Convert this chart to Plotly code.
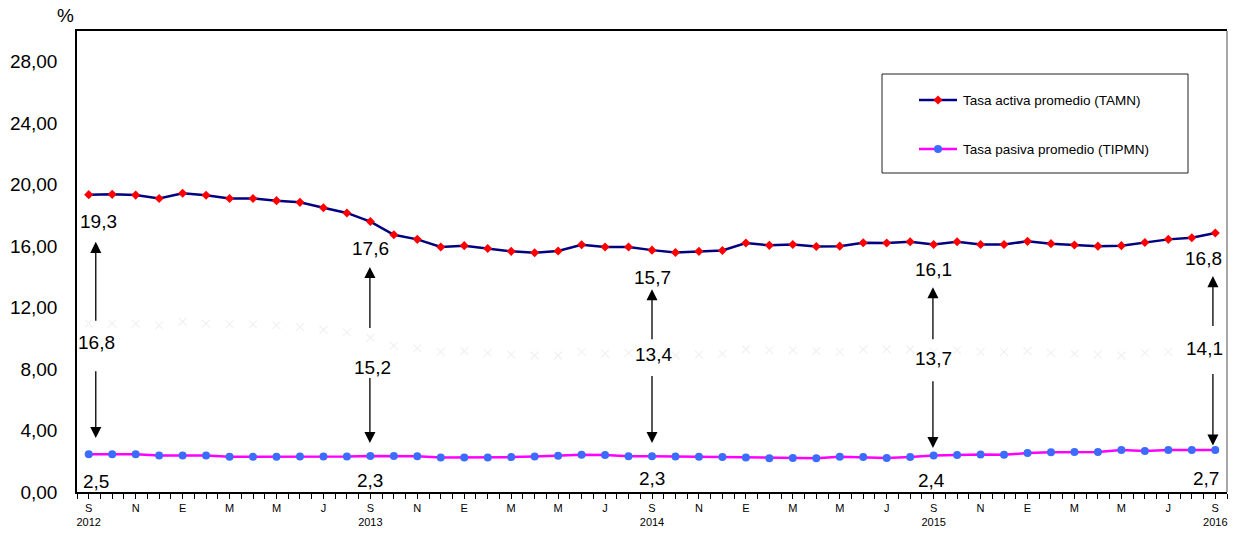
import plotly.graph_objects as go

# ---------------- data ----------------
MONTH_LETTERS = ["S", "O", "N", "D", "E", "F", "M", "A", "M", "J", "J", "A"] * 4 + ["S"]
YEAR_LABELS = ["2012", "2013", "2014", "2015", "2016"]

TAMN = [19.35, 19.37, 19.32, 19.10, 19.44, 19.31, 19.10, 19.10, 18.96, 18.85,
        18.50, 18.16, 17.60, 16.74, 16.44, 15.94, 16.03, 15.85, 15.66, 15.57,
        15.68, 16.09, 15.94, 15.94, 15.74, 15.59, 15.66, 15.72, 16.20, 16.05,
        16.11, 15.98, 16.00, 16.22, 16.20, 16.29, 16.11, 16.29, 16.11, 16.11,
        16.31, 16.16, 16.07, 16.00, 16.03, 16.24, 16.44, 16.55, 16.85]

TIPMN = [2.46, 2.46, 2.46, 2.38, 2.38, 2.38, 2.29, 2.29, 2.29, 2.31,
         2.31, 2.31, 2.35, 2.35, 2.33, 2.25, 2.25, 2.25, 2.27, 2.31,
         2.36, 2.42, 2.40, 2.33, 2.33, 2.31, 2.29, 2.27, 2.25, 2.20,
         2.22, 2.20, 2.29, 2.27, 2.22, 2.27, 2.38, 2.40, 2.44, 2.42,
         2.53, 2.59, 2.61, 2.61, 2.73, 2.66, 2.73, 2.73, 2.73]

SPREAD = [16.9, 16.9, 16.9, 16.7, 17.1, 16.9, 16.8, 16.8, 16.7, 16.5,
          16.2, 15.9, 15.3, 14.4, 14.1, 13.7, 13.8, 13.6, 13.4, 13.3,
          13.3, 13.7, 13.5, 13.6, 13.4, 13.3, 13.4, 13.5, 14.0, 13.9,
          13.9, 13.8, 13.7, 14.0, 14.0, 14.0, 13.7, 13.9, 13.7, 13.7,
          13.8, 13.6, 13.5, 13.4, 13.3, 13.6, 13.7, 13.8, 14.1]

LABEL_IDX = [0, 12, 24, 36, 48]
TAMN_LABELS = ["19,3", "17,6", "15,7", "16,1", "16,8"]
SPREAD_LABELS = ["16,8", "15,2", "13,4", "13,7", "14,1"]
TIPMN_LABELS = ["2,5", "2,3", "2,3", "2,4", "2,7"]

NAME_ACT = "Tasa activa promedio (TAMN)"
NAME_PAS = "Tasa pasiva promedio (TIPMN)"

# ---------------- layout constants (positions of the callouts, in axis units) ----------------
CALLOUT_X_TOP = [0.43, 12.0, 24.0, 35.99, 47.51]
CALLOUT_X_ARROW = [0.30, 11.98, 24.0, 35.97, 47.9]
CALLOUT_X_MID = [0.33, 12.1, 24.07, 35.98, 47.53]
CALLOUT_X_BOT = [0.33, 12.0, 24.0, 35.92, 47.6]
Y_TOP = [17.62, 15.85, 13.96, 14.48, 15.20]
Y_UP_TAIL = [11.04, 10.58, 9.84, 9.84, 10.71]
Y_UP_HEAD = [16.28, 14.64, 13.20, 13.33, 14.05]
Y_MID = [9.70, 8.07, 8.92, 8.72, 9.37]
Y_DN_TAIL = [7.96, 7.51, 7.65, 7.31, 7.77]
Y_DN_HEAD = [3.51, 3.19, 3.19, 2.86, 3.03]
Y_BOT = [0.70, 0.76, 0.86, 0.76, 0.86]

FONT = "Liberation Sans, Arial, sans-serif"
L, R, T, B = 77, 1227, 31, 492

x = list(range(len(TAMN)))

fig = go.Figure()

# faint spread series (secondary hidden axis)
fig.add_trace(go.Scatter(
    x=x, y=SPREAD, yaxis="y2", mode="markers", showlegend=False, hoverinfo="skip",
    marker=dict(symbol="x-thin", size=8, line=dict(color="#f1f1f1", width=1.2)),
))

fig.add_trace(go.Scatter(
    x=x, y=TAMN, mode="lines+markers", name=NAME_ACT, showlegend=False,
    line=dict(color="#000080", width=2.5),
    marker=dict(symbol="diamond", size=7, color="#ff0000"),
))
fig.add_trace(go.Scatter(
    x=x, y=TIPMN, mode="lines+markers", name=NAME_PAS, showlegend=False,
    line=dict(color="#ff00ff", width=2.5),
    marker=dict(symbol="circle", size=8, color="#3c6cff"),
))

# ---------------- manual legend on a pixel overlay axis ----------------
LEG_BOX = (882, 74, 1188, 173)
LEG_ROWS = [100, 149]
fig.add_trace(go.Scatter(
    x=[938], y=[LEG_ROWS[0]], xaxis="x3", yaxis="y3", mode="markers", showlegend=False,
    hoverinfo="skip", marker=dict(symbol="diamond", size=7, color="#ff0000"),
))
fig.add_trace(go.Scatter(
    x=[938], y=[LEG_ROWS[1]], xaxis="x3", yaxis="y3", mode="markers", showlegend=False,
    hoverinfo="skip", marker=dict(symbol="circle", size=8, color="#3c6cff"),
))

shapes = [
    dict(type="rect", xref="x3", yref="y3", x0=LEG_BOX[0], y0=LEG_BOX[1], x1=LEG_BOX[2], y1=LEG_BOX[3],
         line=dict(color="#222222", width=1), fillcolor="rgba(0,0,0,0)", layer="below"),
    dict(type="line", xref="x3", yref="y3", x0=919, x1=957, y0=LEG_ROWS[0], y1=LEG_ROWS[0],
         line=dict(color="#000080", width=2.5), layer="below"),
    dict(type="line", xref="x3", yref="y3", x0=919, x1=957, y0=LEG_ROWS[1], y1=LEG_ROWS[1],
         line=dict(color="#ff00ff", width=2.5), layer="below"),
    dict(type="line", xref="paper", yref="paper", x0=1, x1=1, y0=0, y1=1,
         line=dict(color="#8a8a8a", width=1.5)),
]

annotations = [
    dict(xref="x3", yref="y3", x=961, y=LEG_ROWS[0], text=NAME_ACT, showarrow=False,
         xanchor="left", yanchor="middle", font=dict(family=FONT, size=13.5, color="#000000")),
    dict(xref="x3", yref="y3", x=961, y=LEG_ROWS[1], text=NAME_PAS, showarrow=False,
         xanchor="left", yanchor="middle", font=dict(family=FONT, size=13.5, color="#000000")),
    dict(xref="paper", yref="paper", x=(65 - L) / (R - L), y=(B - 16) / (B - T), text="%",
         showarrow=False, xanchor="center", yanchor="middle",
         font=dict(family=FONT, size=19, color="#000000")),
]

lab_font = dict(family=FONT, size=19, color="#000000")
for k in range(len(LABEL_IDX)):
    annotations.append(dict(x=CALLOUT_X_TOP[k], y=Y_TOP[k], text=TAMN_LABELS[k], showarrow=False,
                            xanchor="center", yanchor="middle", font=lab_font))
    annotations.append(dict(x=CALLOUT_X_MID[k], y=Y_MID[k], text=SPREAD_LABELS[k], showarrow=False,
                            xanchor="center", yanchor="middle", font=lab_font))
    annotations.append(dict(x=CALLOUT_X_BOT[k], y=Y_BOT[k], text=TIPMN_LABELS[k], showarrow=False,
                            xanchor="center", yanchor="middle", font=lab_font))
    annotations.append(dict(x=CALLOUT_X_ARROW[k], y=Y_UP_HEAD[k], ax=CALLOUT_X_ARROW[k], ay=Y_UP_TAIL[k],
                            xref="x", yref="y", axref="x", ayref="y", text="", showarrow=True,
                            arrowhead=2, arrowsize=1.7, arrowwidth=1.3, arrowcolor="#000000",
                            standoff=0, startstandoff=0))
    annotations.append(dict(x=CALLOUT_X_ARROW[k], y=Y_DN_HEAD[k], ax=CALLOUT_X_ARROW[k], ay=Y_DN_TAIL[k],
                            xref="x", yref="y", axref="x", ayref="y", text="", showarrow=True,
                            arrowhead=2, arrowsize=1.7, arrowwidth=1.3, arrowcolor="#000000",
                            standoff=0, startstandoff=0))

# x ticks every half month, labels every two months
n = len(TAMN)
tickvals = [i / 2 - 0.5 for i in range(2 * n + 1)]
ticktext = []
for v in tickvals:
    if v >= 0 and float(v).is_integer() and int(v) % 2 == 0:
        i = int(v)
        t = MONTH_LETTERS[i]
        if i % 12 == 0:
            t += "<br>" + YEAR_LABELS[i // 12]
        ticktext.append(t)
    else:
        ticktext.append("")

fig.update_layout(
    width=1234, height=534,
    margin=dict(l=L, r=1234 - R, t=T, b=534 - B, autoexpand=False),
    paper_bgcolor="white", plot_bgcolor="white",
    separators=",.",
    showlegend=False,
    font=dict(family=FONT, color="#000000"),
    xaxis=dict(
        range=[-0.5, n - 0.5], tickmode="array", tickvals=tickvals, ticktext=ticktext,
        ticks="outside", ticklen=5, tickwidth=1, tickcolor="#000000",
        showline=True, linecolor="#000000", linewidth=1.5, mirror=True,
        showgrid=False, zeroline=False, tickangle=0,
        tickfont=dict(family=FONT, size=11, color="#000000"),
    ),
    yaxis=dict(
        range=[0, 30], tickmode="array", tickvals=[0, 4, 8, 12, 16, 20, 24, 28],
        tickformat=".2f", ticks="", showline=True, linecolor="#000000", linewidth=1.5,
        showgrid=False, zeroline=False, ticklabelstandoff=14,
        tickfont=dict(family=FONT, size=19, color="#000000"),
    ),
    yaxis2=dict(range=[-2.1, 49.9], overlaying="y", visible=False, showgrid=False),
    xaxis3=dict(range=[L, R], overlaying="x", visible=False, showgrid=False),
    yaxis3=dict(range=[B, T], overlaying="y", visible=False, showgrid=False),
    shapes=shapes,
    annotations=annotations,
)

fig.write_html(
    "out.html",
    config={"displayModeBar": False},
    post_script="document.body.style.margin='0';document.body.style.overflow='hidden';",
)
